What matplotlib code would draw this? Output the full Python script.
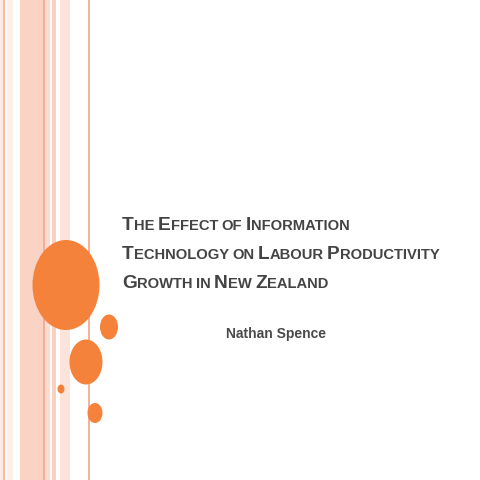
import matplotlib
matplotlib.use("Agg")
import matplotlib.pyplot as plt
from matplotlib.patches import Ellipse, Rectangle

# stripes: (x0, width, colour)
stripe_x = [0, 3, 7, 20, 43, 45, 52, 60, 88]
stripe_w = [3, 1.5, 6, 23, 2, 5, 4, 10, 1.5]
stripe_c = ["#fde9e1", "#f7b9a2", "#fdeee8", "#fbd3c4", "#f3b096", "#fcdcd0",
            "#fbd0c0", "#fde4da", "#f4b39c"]

# circles: centre x, centre y, width, height
circ_x = [66, 109, 86, 61, 95]
circ_y = [285, 327, 362, 389, 413]
circ_w = [67, 18, 33, 7, 15]
circ_h = [90, 25, 45, 9, 20]

title_lines = ["The Effect of Information",
               "Technology on Labour Productivity",
               "Growth in New Zealand"]
author = "Nathan Spence"

fig = plt.figure(figsize=(4.8, 4.8), dpi=100)
ax = fig.add_axes([0, 0, 1, 1])
ax.set_xlim(0, 480)
ax.set_ylim(480, 0)
ax.axis("off")

for x, w, c in zip(stripe_x, stripe_w, stripe_c):
    ax.add_patch(Rectangle((x, 0), w, 480, color=c, lw=0))

for x, y, w, h in zip(circ_x, circ_y, circ_w, circ_h):
    ax.add_patch(Ellipse((x, y), w, h, color="#f5823a", lw=0))

fig.canvas.draw()
renderer = fig.canvas.get_renderer()


def small_caps(x, y, line, big=13.8, small=10.6):
    # draw each word: first letter large, rest as smaller capitals
    for word in line.split(" "):
        pieces = [(word[0].upper(), big), (word[1:].upper(), small)]
        if word.islower():
            pieces = [(word.upper(), small)]
        for txt, size in pieces:
            if not txt:
                continue
            t = ax.text(x, y, txt, fontsize=size, fontweight="bold", color="#444444",
                        family="Liberation Sans", va="baseline", ha="left")
            bb = t.get_window_extent(renderer)
            x += bb.width
        x += 3.5


for i, line in enumerate(title_lines):
    small_caps(122, 230 + i * 29, line)

ax.text(276, 334, author, fontsize=10, fontweight="bold", color="#4a4a4a",
        family="Liberation Sans", ha="center", va="center")

fig.savefig("out.png", dpi=100)
